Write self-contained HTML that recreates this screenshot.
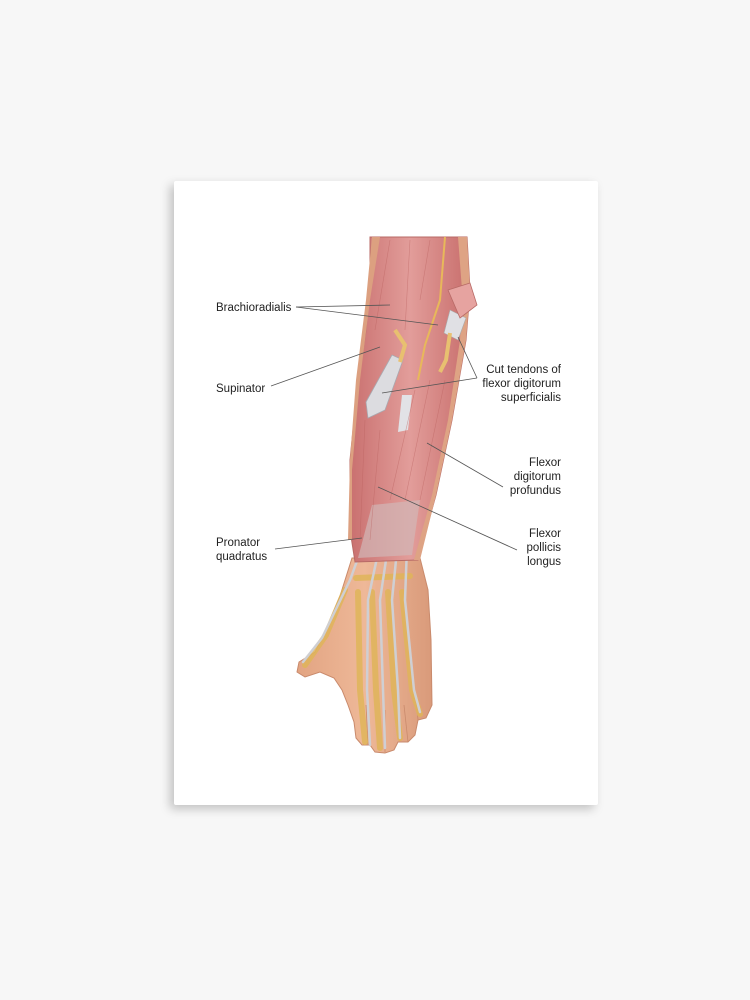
<!DOCTYPE html>
<html><head><meta charset="utf-8"><style>
html,body{margin:0;padding:0;background:#f7f7f7;width:750px;height:1000px;overflow:hidden}
.c{position:absolute;left:174px;top:181px;width:424px;height:624px;background:#fff;border-radius:2px;box-shadow:-4px 4px 10px rgba(0,0,0,0.22)}
svg{position:absolute;left:0;top:0}
text{font-family:"Liberation Sans",sans-serif;font-size:11.5px;fill:#222}
</style></head><body>
<div class="c"></div>
<svg width="750" height="1000" viewBox="0 0 750 1000">
<defs>
<linearGradient id="m" x1="0" x2="1"><stop offset="0" stop-color="#c9706f"/><stop offset="0.5" stop-color="#e29d9a"/><stop offset="1" stop-color="#c86e6c"/></linearGradient>
<linearGradient id="s" x1="0" x2="1"><stop offset="0" stop-color="#e2a482"/><stop offset="0.5" stop-color="#eeb898"/><stop offset="1" stop-color="#d99a7a"/></linearGradient>
</defs>
<!-- hand skin -->
<path d="M352,558 L420,558 L428,590 L431,640 L432,705 L426,718 L418,720 L415,735 L408,742 L398,742 L394,750 L385,753 L375,752 L370,745 L362,745 L356,738 L354,722 L348,705 L342,690 L334,678 L320,672 L305,677 L297,672 L299,662 L315,652 L327,628 L340,596 Z" fill="url(#s)" stroke="#c98a6c" stroke-width="1"/>
<!-- finger separations -->
<g stroke="#c98a6c" stroke-width="0.8" fill="none">
<path d="M368,745 L366,705"/><path d="M385,752 L385,710"/><path d="M408,742 L404,705"/><path d="M418,720 L416,700"/>
</g>
<!-- bones -->
<g stroke="#e0b55a" stroke-width="6" stroke-linecap="round" fill="none" opacity="0.85">
<path d="M345,590 L326,635 L305,665"/>
<path d="M358,592 L360,690 L365,742"/>
<path d="M372,592 L376,690 L380,748"/>
<path d="M388,592 L394,690 L400,738"/>
<path d="M402,592 L412,690 L420,714"/>
<path d="M356,578 L410,576"/>
</g>
<g stroke="#cfcfd3" stroke-width="2.5" stroke-linecap="round" fill="none">
<path d="M372,520 L350,580 L322,638 L303,662"/>
<path d="M385,520 L368,600 L367,690 L370,745"/>
<path d="M392,520 L380,600 L383,690 L385,748"/>
<path d="M400,520 L392,600 L398,690 L400,738"/>
<path d="M408,520 L405,600 L414,690 L420,712"/>
</g>
<!-- forearm muscles -->
<path d="M370,237 L467,237 L470,290 L466,340 L452,420 L436,495 L418,560 L355,562 L350,530 L350,460 L356,400 L366,330 L370,280 Z" fill="url(#m)" stroke="#b86a66" stroke-width="1"/>
<path d="M372,237 L380,237 L370,300 L360,380 L352,470 L352,540 L348,540 L350,460 L356,380 L366,300 Z" fill="#dca080"/>
<path d="M458,237 L467,237 L470,290 L466,340 L452,420 L436,495 L420,560 L414,560 L432,495 L448,420 L460,340 L462,290 Z" fill="#dea384"/>
<path d="M372,505 L420,500 L412,555 L358,558 Z" fill="#d2b6b6" opacity="0.7"/>
<path d="M392,355 L403,360 L385,410 L368,418 L366,402 Z" fill="#dcdce0" stroke="#a9a9b0" stroke-width="0.8"/>
<path d="M402,395 L412,395 L408,430 L398,432 Z" fill="#e2e2e6"/>
<path d="M450,310 L466,318 L458,340 L444,333 Z" fill="#e0e0e4" stroke="#aaa" stroke-width="0.6"/>
<path d="M448,290 L470,283 L477,305 L460,318 Z" fill="#e6a3a0" stroke="#b86a66" stroke-width="0.8"/>
<path d="M445,237 L440,300 L425,345 L418,380" stroke="#e8b85a" stroke-width="2" fill="none"/>
<path d="M395,330 L405,345 L400,362" stroke="#e8c070" stroke-width="4" fill="none"/>
<path d="M450,333 L446,360 L440,372" stroke="#e8c070" stroke-width="4" fill="none"/>
<g stroke="#b9605e" stroke-width="0.6" opacity="0.5" fill="none">
<path d="M390,240 L375,330"/><path d="M410,240 L405,330"/><path d="M430,240 L420,300"/>
<path d="M430,380 L405,500"/><path d="M445,380 L420,500"/><path d="M415,390 L390,500"/>
<path d="M380,430 L370,540"/><path d="M365,420 L360,540"/>
</g>
<g stroke="#555" stroke-width="0.8" fill="none">
<path d="M296,307 L390,305"/><path d="M296,307 L438,325"/>
<path d="M271,386 L380,347"/>
<path d="M477,378 L458,337"/><path d="M477,378 L382,393"/>
<path d="M503,487 L427,443"/>
<path d="M517,550 L378,487"/>
<path d="M275,549 L362,538"/>
</g>
<text x="216" y="311">Brachioradialis</text>
<text x="216" y="392">Supinator</text>
<text x="216" y="546">Pronator</text>
<text x="216" y="560">quadratus</text>
<g text-anchor="end">
<text x="561" y="373">Cut tendons of</text>
<text x="561" y="387">flexor digitorum</text>
<text x="561" y="401">superficialis</text>
<text x="561" y="466">Flexor</text>
<text x="561" y="480">digitorum</text>
<text x="561" y="494">profundus</text>
<text x="561" y="537">Flexor</text>
<text x="561" y="551">pollicis</text>
<text x="561" y="565">longus</text>
</g>
</svg>
</body></html>
